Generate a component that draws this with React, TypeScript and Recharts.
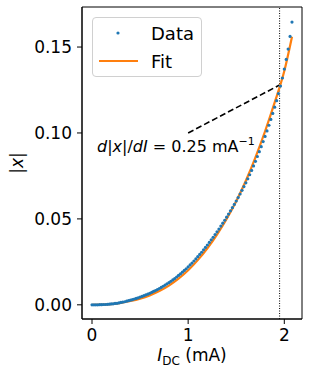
import React from 'react';
import { ComposedChart, Scatter, Line, XAxis, YAxis, ReferenceLine, ReferenceArea } from 'recharts';

// measured current (mA) and |x|
const dataCurrent = [
  0.0, 0.02, 0.04, 0.06, 0.08, 0.1, 0.12, 0.14, 0.16, 0.18, 0.2, 0.22, 0.24, 0.26, 0.28,
  0.3, 0.32, 0.34, 0.36, 0.38, 0.4, 0.42, 0.44, 0.46, 0.48, 0.5, 0.52, 0.54, 0.56, 0.58,
  0.6, 0.62, 0.64, 0.66, 0.68, 0.7, 0.72, 0.74, 0.76, 0.78, 0.8, 0.82, 0.84, 0.86, 0.88,
  0.9, 0.92, 0.94, 0.96, 0.98, 1.0, 1.02, 1.04, 1.06, 1.08, 1.1, 1.12, 1.14, 1.16, 1.18,
  1.2, 1.22, 1.24, 1.26, 1.28, 1.3, 1.32, 1.34, 1.36, 1.38, 1.4, 1.42, 1.44, 1.46, 1.48,
  1.5, 1.52, 1.54, 1.56, 1.58, 1.6, 1.62, 1.64, 1.66, 1.68, 1.7, 1.72, 1.74, 1.76, 1.78,
  1.8, 1.82, 1.84, 1.86, 1.88, 1.9, 1.92, 1.94, 1.96, 1.98, 2.0, 2.02, 2.04, 2.06, 2.08,
];
const dataAbsX = [
  0.0, 0.0, 0.0, 0.0, 0.0001, 0.0001, 0.0002, 0.0002, 0.0003, 0.0004, 0.0005, 0.0006, 0.0008, 0.0009, 0.0011,
  0.0014, 0.0016, 0.0018, 0.0021, 0.0024, 0.0027, 0.003, 0.0034, 0.0037, 0.0041, 0.0045, 0.0049, 0.0053, 0.0058, 0.0062,
  0.0067, 0.0072, 0.0078, 0.0083, 0.0089, 0.0095, 0.0101, 0.0108, 0.0115, 0.0122, 0.0129, 0.0137, 0.0145, 0.0153, 0.0162,
  0.0171, 0.018, 0.019, 0.02, 0.021, 0.0221, 0.0232, 0.0243, 0.0255, 0.0267, 0.028, 0.0293, 0.0306, 0.032, 0.0334,
  0.0348, 0.0363, 0.0378, 0.0393, 0.0409, 0.0425, 0.0441, 0.0458, 0.0475, 0.0492, 0.051, 0.0528, 0.0547, 0.0565, 0.0584,
  0.0604, 0.0624, 0.0645, 0.0666, 0.0688, 0.071, 0.0733, 0.0757, 0.0782, 0.0808, 0.0835, 0.0863, 0.0891, 0.092, 0.095,
  0.098, 0.1012, 0.1045, 0.1079, 0.1114, 0.115, 0.1188, 0.1229, 0.1273, 0.132, 0.1372, 0.1428, 0.1488, 0.1562, 0.1645,
];

// fitted curve
const fitCurrent = [0, 0.1, 0.2, 0.3, 0.4, 0.5, 0.6, 0.7, 0.8, 0.9, 1.0, 1.1, 1.2, 1.3, 1.4, 1.5, 1.6, 1.7, 1.8, 1.9, 2.0, 2.08];
const fitAbsX = [
  0.0, 0.0001, 0.0004, 0.0011, 0.0022, 0.0036, 0.0055, 0.008, 0.0112, 0.0152, 0.0201,
  0.026, 0.0329, 0.0409, 0.05, 0.0603, 0.0722, 0.0858, 0.101, 0.1178, 0.136, 0.156,
];

// annotation: operating point and tangent segment
const operatingCurrent = 1.951;
const tangentStart = { x: 1.0, y: 0.1 };
const tangentEnd = { x: 1.951, y: 0.1279 };

const xTicks = [0, 1, 2];
const yTicks = [0, 0.05, 0.1, 0.15];
const xDomain = [-0.104, 2.184];
const yDomain = [-0.00825, 0.1733];

const points = dataCurrent.map((x, i) => ({ x, y: dataAbsX[i] }));
const fit = fitCurrent.map((x, i) => ({ x, y: fitAbsX[i] }));

const FONT = 'DejaVu Sans';
const BLUE = '#1f77b4';
const ORANGE = '#ff7f0e';

const Dot = (props: any) => <circle cx={props.cx} cy={props.cy} r={1.6} fill={BLUE} />;

const XLabel = (props: any) => {
  const vb = props.viewBox;
  return (
    <text x={vb.x + vb.width / 2} y={361} textAnchor="middle" fontFamily={FONT} fontSize={17} fill="#000">
      <tspan fontStyle="italic">I</tspan>
      <tspan fontSize={12} dy={4}>DC</tspan>
      <tspan dy={-4}> (mA)</tspan>
    </text>
  );
};

const YLabel = (props: any) => {
  const vb = props.viewBox;
  const cy = vb.y + vb.height / 2;
  return (
    <text x={23} y={cy} textAnchor="middle" fontFamily={FONT} fontSize={17} fill="#000" transform={`rotate(-90 23 ${cy})`}>
      |<tspan fontStyle="italic">x</tspan>|
    </text>
  );
};

export default function App() {
  return (
    <div style={{ position: 'absolute', left: 0, top: 0, width: 310, height: 377, background: '#fff', fontFamily: FONT }}>
      <ComposedChart width={310} height={377} margin={{ top: 7, right: 8, bottom: 0, left: 0 }}>
        <ReferenceArea x1={xDomain[0]} x2={xDomain[1]} y1={yDomain[0]} y2={yDomain[1]} fill="none" stroke="#000" strokeWidth={1} ifOverflow="visible" />
        <XAxis
          type="number"
          dataKey="x"
          domain={xDomain}
          ticks={xTicks}
          allowDataOverflow
          height={58}
          tickSize={5}
          tickMargin={5}
          stroke="#000"
          tick={{ fontSize: 17, fill: '#000', fontFamily: FONT }}
          label={<XLabel />}
        />
        <YAxis
          type="number"
          dataKey="y"
          domain={yDomain}
          ticks={yTicks}
          allowDataOverflow
          width={82}
          tickSize={5}
          tickMargin={5}
          stroke="#000"
          tickFormatter={(v: number) => v.toFixed(2)}
          tick={{ fontSize: 17, fill: '#000', fontFamily: FONT }}
          label={<YLabel />}
        />
        <ReferenceLine x={operatingCurrent} stroke="#000" strokeWidth={1} strokeDasharray="1 1.5" />
        <ReferenceLine segment={[tangentStart, tangentEnd]} stroke="#000" strokeWidth={1.6} strokeDasharray="6 3" />
        <Scatter data={points} dataKey="y" shape={<Dot />} isAnimationActive={false} />
        <Line data={fit} dataKey="y" type="monotone" stroke={ORANGE} strokeWidth={2.2} dot={false} isAnimationActive={false} />
      </ComposedChart>

      {/* legend */}
      <div
        style={{
          position: 'absolute', left: 92, top: 17, width: 108, height: 58,
          border: '1px solid #d0d0d0', borderRadius: 4, background: 'rgba(255,255,255,0.8)',
        }}
      >
        <svg width={108} height={58} style={{ position: 'absolute', left: 0, top: 0 }}>
          <circle cx={25} cy={15} r={1.6} fill={BLUE} />
          <line x1={6} x2={45} y1={43} y2={43} stroke={ORANGE} strokeWidth={2} />
          <text x={58} y={21.5} fontFamily={FONT} fontSize={18} fill="#000">Data</text>
          <text x={58} y={49.5} fontFamily={FONT} fontSize={18} fill="#000">Fit</text>
        </svg>
      </div>

      {/* slope annotation */}
      <svg width={310} height={377} style={{ position: 'absolute', left: 0, top: 0, pointerEvents: 'none' }}>
        <text x={97} y={152} fontFamily={FONT} fontSize={16} fill="#000">
          <tspan fontStyle="italic">d</tspan>|<tspan fontStyle="italic">x</tspan>|/<tspan fontStyle="italic">dI</tspan> = 0.25 mA
          <tspan fontSize={11} dy={-7}>−1</tspan>
        </text>
      </svg>
    </div>
  );
}
